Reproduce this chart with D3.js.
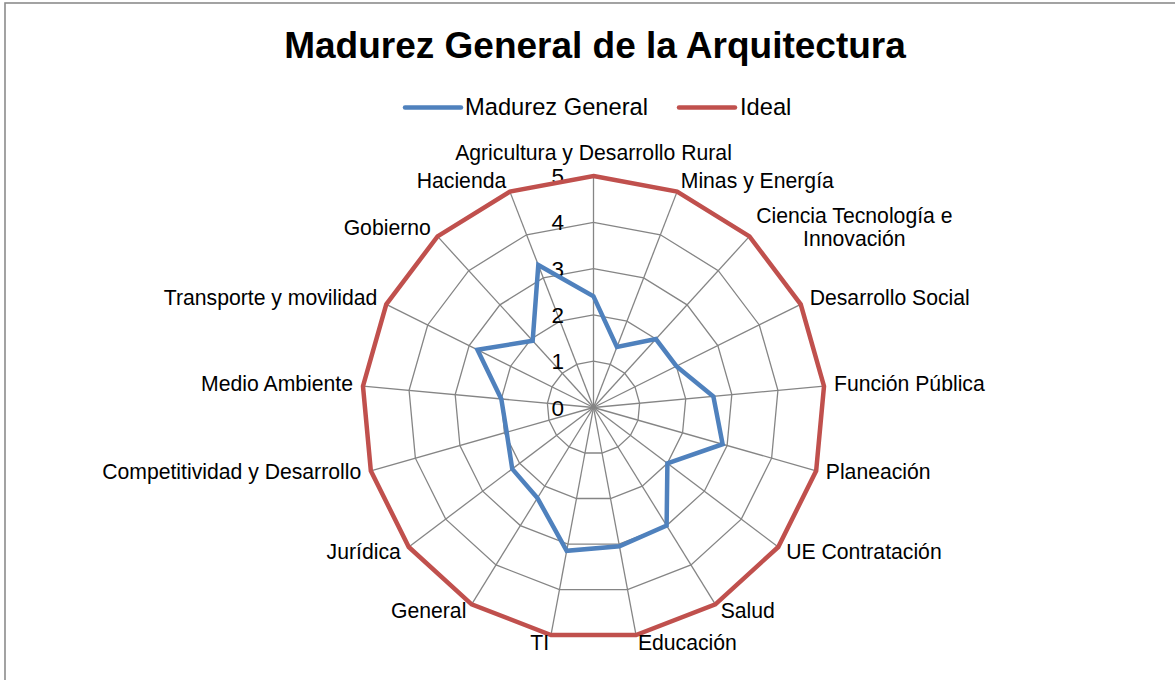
<!DOCTYPE html>
<html>
<head>
<meta charset="utf-8">
<script src="https://cdn.jsdelivr.net/npm/d3@7"></script>
<style>
  html, body { margin: 0; padding: 0; background: #fff; }
  svg { display: block; font-family: "Liberation Sans", Arial, sans-serif; }
</style>
</head>
<body>
<svg id="chart" width="1175" height="680"></svg>
<script>
const categories = [
  "Agricultura y Desarrollo Rural", "Minas y Energía", "Ciencia Tecnología e|Innovación",
  "Desarrollo Social", "Función Pública", "Planeación", "UE Contratación", "Salud",
  "Educación", "TI", "General", "Jurídica", "Competitividad y Desarrollo",
  "Medio Ambiente", "Transporte y movilidad", "Gobierno", "Hacienda"
];
const madurezGeneral = [2.4, 1.4, 2.0, 2.0, 2.6, 2.9, 2.0, 3.0, 3.05, 3.15, 2.3, 2.2, 1.95, 2.0, 2.8, 1.95, 3.3];
const ideal = [5, 5, 5, 5, 5, 5, 5, 5, 5, 5, 5, 5, 5, 5, 5, 5, 5];
const tickValues = [0, 1, 2, 3, 4, 5];
const seriesNames = ["Madurez General", "Ideal"];
const seriesColors = ["#4F81BD", "#C0504D"];

const svg = d3.select("#chart");
const cx = 593.5, cy = 407.5, R = 231.5;
const n = categories.length;

// frame
svg.append("rect").attr("x", 5).attr("y", 3).attr("width", 1200).attr("height", 700)
  .attr("fill", "none").attr("stroke", "#8c8c8c").attr("stroke-width", 1.6);

// title
svg.append("text").attr("x", 595).attr("y", 58).attr("text-anchor", "middle")
  .attr("font-size", 37).attr("font-weight", "bold").attr("fill", "#000")
  .text("Madurez General de la Arquitectura");

const r = d3.scaleLinear().domain([0, 5]).range([0, R]);
const ang = d3.scaleLinear().domain([0, n]).range([0, 2 * Math.PI]);
const pt = (i, v) => [cx + r(v) * Math.sin(ang(i)), cy - r(v) * Math.cos(ang(i))];

const g = svg.append("g");
const lineClosed = d3.line().curve(d3.curveLinearClosed);
tickValues.filter(t => t > 0).forEach(t => {
  g.append("path").attr("d", lineClosed(d3.range(n).map(i => pt(i, t))))
    .attr("fill", "none").attr("stroke", "#858585").attr("stroke-width", 1.3);
});
d3.range(n).forEach(i => {
  const [x, y] = pt(i, 5);
  g.append("line").attr("x1", cx).attr("y1", cy).attr("x2", x).attr("y2", y)
    .attr("stroke", "#858585").attr("stroke-width", 1.3);
});

// tick labels
tickValues.forEach(t => {
  svg.append("text").attr("x", 564).attr("y", cy - r(t) + 8)
    .attr("text-anchor", "end").attr("font-size", 22.5).attr("fill", "#000").text(t);
});

// series
[madurezGeneral, ideal].forEach((vals, k) => {
  svg.append("path").attr("d", lineClosed(vals.map((v, i) => pt(i, v))))
    .attr("fill", "none").attr("stroke", seriesColors[k]).attr("stroke-width", 4.5)
    .attr("stroke-linejoin", "miter");
});

// category labels
categories.forEach((c, i) => {
  const a = ang(i);
  const s = Math.sin(a), co = Math.cos(a);
  const ax = cx + (R + 10) * s, ay = cy - (R + 10) * co;
  const lines = c.split("|");
  const fs = 21.2, lh = 23.4;
  let anchor = Math.abs(s) < 0.05 ? "middle" : (s > 0 ? "start" : "end");
  const t = svg.append("text").attr("font-size", fs).attr("fill", "#000");
  if (anchor === "middle") {
    t.attr("text-anchor", "middle").attr("x", ax).attr("y", ay - 6).text(c);
  } else if (lines.length === 1) {
    t.attr("text-anchor", anchor).attr("x", ax).attr("y", ay + 5.5).text(c);
  } else {
    const tmp = svg.append("text").attr("font-size", fs).text(lines[0]);
    const w = tmp.node().getComputedTextLength();
    tmp.remove();
    const midX = ax + w / 2;
    const base1 = ay + 5.5 - lh / 2;
    lines.forEach((ln, j) => {
      t.append("tspan").attr("x", midX).attr("y", base1 + j * lh).attr("text-anchor", "middle").text(ln);
    });
  }
});

// legend
const legend = svg.append("g");
const legItems = [
  { x1: 405, x2: 461, tx: 465 },
  { x1: 679, x2: 735, tx: 740 }
];
legItems.forEach((it, k) => {
  legend.append("line").attr("x1", it.x1).attr("x2", it.x2).attr("y1", 107.5).attr("y2", 107.5)
    .attr("stroke", seriesColors[k]).attr("stroke-width", 4.5).attr("stroke-linecap", "round");
  legend.append("text").attr("x", it.tx).attr("y", 114.5).attr("font-size", 23.7).attr("fill", "#000")
    .text(seriesNames[k]);
});
</script>
</body>
</html>
